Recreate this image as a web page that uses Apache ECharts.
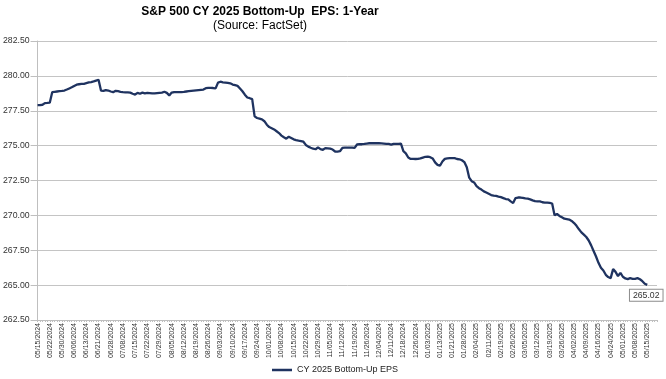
<!DOCTYPE html>
<html>
<head>
<meta charset="utf-8">
<script src="https://cdn.jsdelivr.net/npm/echarts@6/dist/echarts.min.js"></script>
<style>
  html, body { margin: 0; padding: 0; background: #ffffff; }
  #chart { width: 666px; height: 379px; }
</style>
</head>
<body>
<div id="chart"></div>
<script>
// ---- Data ----
const chartTitle = 'S&P 500 CY 2025 Bottom-Up  EPS: 1-Year';
const chartSubtitle = '(Source: FactSet)';
const seriesName = 'CY 2025 Bottom-Up EPS';

// Trading-day calendar used for the category axis
const firstDay = '2024-05-15';
const dayCount = 255; // 251 days with values + 4 empty days at the right end of the axis
const marketHolidays = [
  '2024-05-27', '2024-06-19', '2024-07-04', '2024-09-02', '2024-11-28',
  '2024-12-25', '2025-01-01', '2025-01-09', '2025-01-20', '2025-02-17',
  '2025-04-18', '2025-05-26'
];

// Daily bottom-up EPS estimates (05/15/2024 .. 05/15/2025)
const epsValues = [
  277.91, 277.91, 277.93, 278.05, 278.06, 278.08, 278.83, 278.86, 278.88, 278.90,
  278.92, 278.95, 279.02, 279.10, 279.18, 279.28, 279.37, 279.40, 279.42, 279.43,
  279.48, 279.53, 279.56, 279.60, 279.66, 279.72, 278.95, 278.92, 278.98, 278.95,
  278.88, 278.83, 278.93, 278.90, 278.85, 278.83, 278.82, 278.82, 278.80, 278.72,
  278.66, 278.78, 278.72, 278.80, 278.75, 278.78, 278.76, 278.74, 278.74, 278.76,
  278.78, 278.80, 278.86, 278.78, 278.60, 278.80, 278.84, 278.83, 278.83, 278.84,
  278.85, 278.88, 278.90, 278.92, 278.94, 278.96, 278.98, 279.00, 279.02, 279.12,
  279.14, 279.14, 279.13, 279.10, 279.52, 279.58, 279.54, 279.52, 279.50, 279.47,
  279.38, 279.33, 279.28, 279.10, 278.90, 278.65, 278.45, 278.40, 278.33, 277.10,
  276.98, 276.93, 276.88, 276.75, 276.50, 276.33, 276.25, 276.16, 276.03, 275.90,
  275.72, 275.60, 275.50, 275.64, 275.55, 275.45, 275.40, 275.36, 275.33, 275.28,
  275.05, 274.93, 274.85, 274.78, 274.74, 274.88, 274.75, 274.70, 274.82, 274.80,
  274.78, 274.72, 274.58, 274.57, 274.60, 274.84, 274.86, 274.86, 274.85, 274.86,
  274.84, 275.08, 275.10, 275.10, 275.12, 275.15, 275.17, 275.18, 275.17, 275.18,
  275.17, 275.16, 275.14, 275.12, 275.12, 275.07, 275.12, 275.12, 275.13, 275.14,
  274.60, 274.45, 274.15, 274.05, 274.05, 274.04, 274.05, 274.08, 274.14, 274.20,
  274.21, 274.17, 274.08, 273.80, 273.62, 273.56, 273.86, 274.05, 274.08, 274.10,
  274.10, 274.10, 274.04, 274.02, 273.95, 273.82, 273.45, 272.70, 272.45, 272.36,
  272.10, 271.95, 271.85, 271.72, 271.64, 271.55, 271.46, 271.42, 271.40, 271.35,
  271.31, 271.24, 271.17, 271.15, 271.00, 270.88, 271.24, 271.28, 271.28, 271.26,
  271.22, 271.20, 271.15, 271.08, 271.02, 271.00, 271.00, 270.94, 270.92, 270.92,
  270.90, 270.85, 270.00, 270.10, 269.96, 269.86, 269.76, 269.73, 269.70, 269.60,
  269.45, 269.25, 269.00, 268.78, 268.62, 268.45, 268.20, 267.85, 267.45, 267.05,
  266.60, 266.25, 266.05, 265.74, 265.58, 265.50, 266.15, 265.95, 265.65, 265.88,
  265.60, 265.48, 265.43, 265.50, 265.45, 265.45, 265.50, 265.42, 265.28, 265.10,
  265.02
];

// Y axis ticks
const yMin = 262.5;
const yMax = 282.5;
const yStep = 2.5;
const xLabelEvery = 5; // one tick label every 5 trading days

// ---- Build category list (trading days) ----
function pad(n) { return (n < 10 ? '0' : '') + n; }
const holidaySet = new Set(marketHolidays);
const categories = [];
(function () {
  const d = new Date(firstDay + 'T00:00:00Z');
  while (categories.length < dayCount) {
    const dow = d.getUTCDay();
    const iso = d.getUTCFullYear() + '-' + pad(d.getUTCMonth() + 1) + '-' + pad(d.getUTCDate());
    if (dow !== 0 && dow !== 6 && !holidaySet.has(iso)) {
      categories.push(pad(d.getUTCMonth() + 1) + '/' + pad(d.getUTCDate()) + '/' + d.getUTCFullYear());
    }
    d.setUTCDate(d.getUTCDate() + 1);
  }
})();

const FONT = 'Arial, "Liberation Sans", sans-serif';
const LINE_COLOR = '#1f3360';
const chart = echarts.init(document.getElementById('chart'), null, { renderer: 'canvas' });

chart.setOption({
  animation: false,
  backgroundColor: '#ffffff',
  title: {
    text: chartTitle,
    subtext: chartSubtitle,
    left: 260,
    top: 6,
    padding: 0,
    textAlign: 'center',
    itemGap: 2,
    textStyle: { fontFamily: FONT, fontSize: 12, fontWeight: 'bold', color: '#000000' },
    subtextStyle: { fontFamily: FONT, fontSize: 12, color: '#000000' }
  },
  legend: {
    data: [seriesName],
    left: 272,
    top: 364,
    padding: 0,
    icon: 'rect',
    itemWidth: 20,
    itemHeight: 2.5,
    itemStyle: { color: LINE_COLOR },
    textStyle: { fontFamily: FONT, fontSize: 9, color: '#222222', lineHeight: 12 }
  },
  grid: { left: 37, right: 9, top: 41, bottom: 59, containLabel: false },
  xAxis: {
    type: 'category',
    data: categories,
    boundaryGap: false,
    axisLine: { show: true, lineStyle: { color: '#bfbfbf', width: 1 } },
    axisTick: { show: true, interval: 0, length: 2, lineStyle: { color: '#bfbfbf' } },
    axisLabel: {
      interval: xLabelEvery - 1,
      rotate: 90,
      margin: 3,
      fontFamily: FONT,
      fontSize: 7,
      color: '#333333'
    },
    splitLine: { show: false }
  },
  yAxis: {
    type: 'value',
    min: yMin,
    max: yMax,
    interval: yStep,
    axisLine: { show: true, lineStyle: { color: '#bfbfbf', width: 1 } },
    axisTick: { show: true, length: 7, lineStyle: { color: '#bfbfbf' } },
    axisLabel: {
      margin: 8,
      fontFamily: FONT,
      fontSize: 8.7,
      color: '#333333',
      formatter: function (v) { return v.toFixed(2); }
    },
    splitLine: { show: true, lineStyle: { color: '#c4c4c4', width: 1 } }
  },
  series: [{
    name: seriesName,
    type: 'line',
    data: epsValues,
    symbol: 'none',
    lineStyle: { color: LINE_COLOR, width: 2.3 },
    itemStyle: { color: LINE_COLOR },
    endLabel: {
      show: true,
      formatter: function (p) { return Number(p.value).toFixed(2); },
      align: 'center',
      verticalAlign: 'top',
      distance: 0,
      offset: [-1, 5],
      fontFamily: FONT,
      fontSize: 8.7,
      color: '#333333',
      backgroundColor: '#ffffff',
      borderColor: '#8c8c8c',
      borderWidth: 1,
      padding: [1, 3, 1, 3]
    }
  }]
});
</script>
</body>
</html>
